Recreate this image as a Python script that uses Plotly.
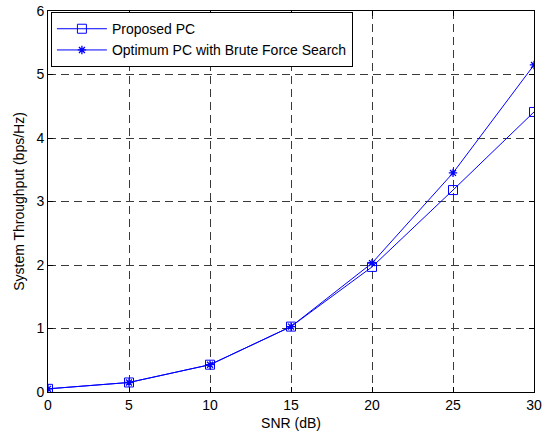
import plotly.graph_objects as go

snr = [0, 5, 10, 15, 20, 25, 30]
proposed = [0.05, 0.15, 0.43, 1.03, 1.97, 3.18, 4.41]
optimum = [0.05, 0.15, 0.43, 1.03, 2.03, 3.45, 5.15]
x_ticks = [0, 5, 10, 15, 20, 25, 30]
y_ticks = [0, 1, 2, 3, 4, 5, 6]

blue = "#0000ff"
fig = go.Figure()
fig.add_trace(go.Scatter(x=snr, y=proposed, mode="lines+markers", name="Proposed PC",
                         line=dict(color=blue, width=1),
                         marker=dict(symbol="square-open", size=9, color=blue, line=dict(width=1, color=blue))))
fig.add_trace(go.Scatter(x=snr, y=optimum, mode="lines+markers", name="Optimum PC with Brute Force Search",
                         line=dict(color=blue, width=1),
                         marker=dict(symbol="asterisk-open", size=7, color=blue, line=dict(width=1.3, color=blue))))

FS = 14
axis_common = dict(showline=True, linecolor="black", linewidth=1, mirror="ticks",
                   ticks="inside", ticklen=5, tickcolor="black", automargin=False,
                   showgrid=True, gridcolor="#3a3a3a", griddash="8px,5px", gridwidth=1,
                   zeroline=False, tickfont=dict(size=FS, color="black"))
fig.update_layout(
    width=546, height=435,
    margin=dict(l=48, r=12, t=11, b=43),
    paper_bgcolor="white", plot_bgcolor="white",
    font=dict(family="Liberation Sans, Arial, sans-serif", size=FS, color="black"),
    xaxis=dict(range=[0, 30], tickvals=x_ticks, title=dict(text="SNR (dB)", standoff=6, font=dict(size=FS)), **axis_common),
    yaxis=dict(range=[0, 6], tickvals=y_ticks, title=dict(text="System Throughput (bps/Hz)", standoff=8, font=dict(size=FS)), **axis_common),
    legend=dict(x=0.006, y=0.997, xanchor="left", yanchor="top", bgcolor="white",
                bordercolor="black", borderwidth=1, font=dict(size=FS), itemwidth=50, tracegroupgap=2),
    showlegend=True,
)
fig.write_html("out.html", config={"displayModeBar": False},
               post_script="document.body.style.margin='0';document.body.style.overflow='hidden';")
